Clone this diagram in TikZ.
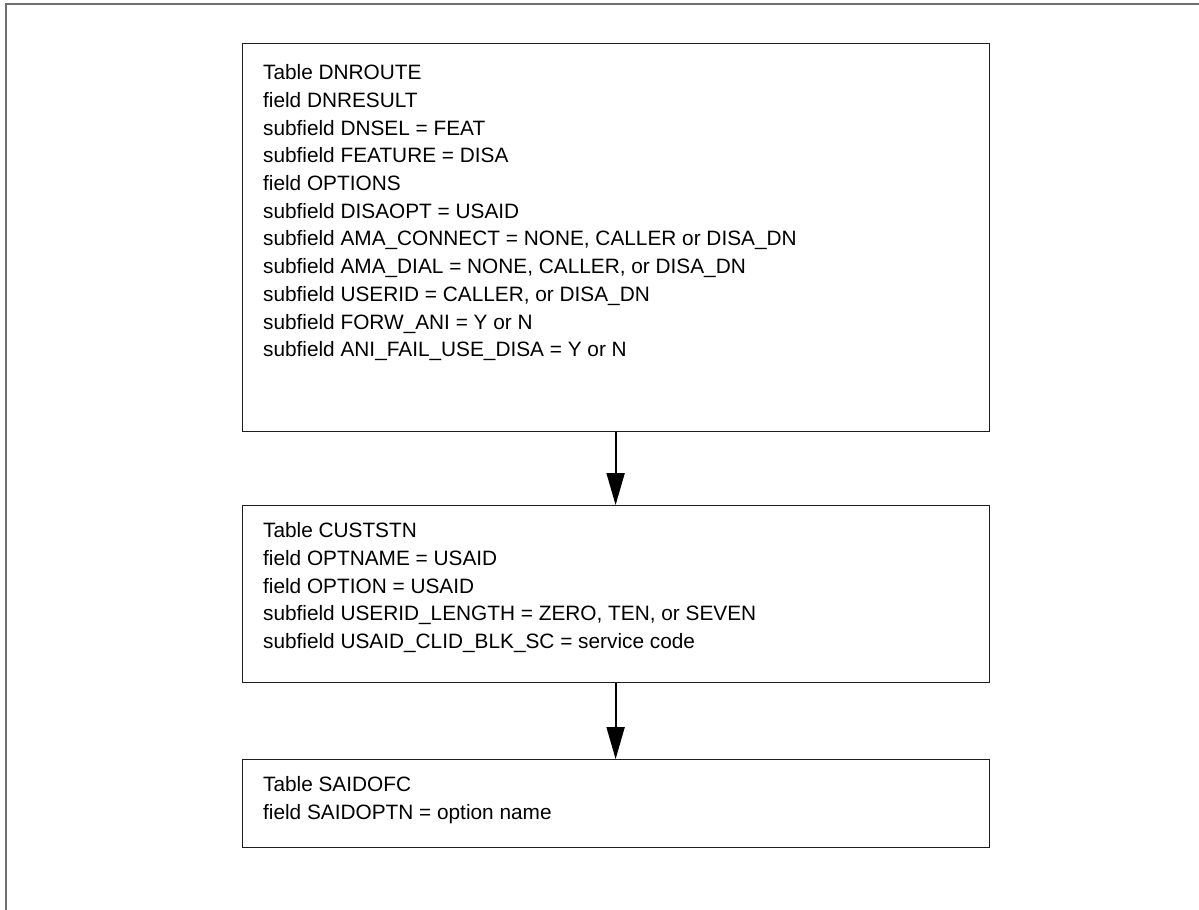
\documentclass[tikz,border=0pt]{standalone}
\usepackage{fontspec}
\setmainfont{Liberation Sans}
\usetikzlibrary{arrows.meta,positioning}
\definecolor{framegray}{RGB}{110,110,110}
\definecolor{boxblack}{RGB}{30,30,30}
\newcommand{\tblbody}[2]{\parbox[t][#1][t]{17.625cm}{#2}}

\begin{document}
\begin{tikzpicture}[
  tbl/.style={rectangle, draw=boxblack, line width=0.75pt, inner xsep=0.525cm,
              inner ysep=0.43cm, align=left, font=\fontsize{14.8}{19.7}\selectfont},
  arr/.style={-{Triangle[length=0.8cm,width=0.45cm]}, line width=1.3pt, black},
  node distance=1.85cm
]
\useasboundingbox (0,0) rectangle (29.975,-22.725);
% outer frame, cut at the bottom and right
\draw[framegray, line width=1.2pt] (0.15,-22.8) -- (0.15,-0.1) -- (30.1,-0.1);

\node[tbl, inner ysep=0.53cm, anchor=north] (dnroute) at (15.39,-1.075) {\tblbody{8.64cm}{%
Table DNROUTE\\
field DNRESULT\\
subfield DNSEL = FEAT\\
subfield FEATURE = DISA\\
field OPTIONS\\
subfield DISAOPT = USAID\\
subfield AMA\_CONNECT = NONE, CALLER or DISA\_DN\\
subfield AMA\_DIAL = NONE, CALLER, or DISA\_DN\\
subfield USERID = CALLER, or DISA\_DN\\
subfield FORW\_ANI = Y or N\\
subfield ANI\_FAIL\_USE\_DISA = Y or N}};
\node[tbl, below=1.825cm of dnroute] (custstn) {\tblbody{3.565cm}{%
Table CUSTSTN\\
field OPTNAME = USAID\\
field OPTION = USAID\\
subfield USERID\_LENGTH = ZERO, TEN, or SEVEN\\
subfield USAID\_CLID\_BLK\_SC = service code}};
\node[tbl, below=1.9cm of custstn] (saidofc) {\tblbody{1.34cm}{%
Table SAIDOFC\\
field SAIDOPTN = option name}};

\draw[arr] (dnroute) -- (custstn);
\draw[arr] (custstn) -- (saidofc);
\end{tikzpicture}
\end{document}
